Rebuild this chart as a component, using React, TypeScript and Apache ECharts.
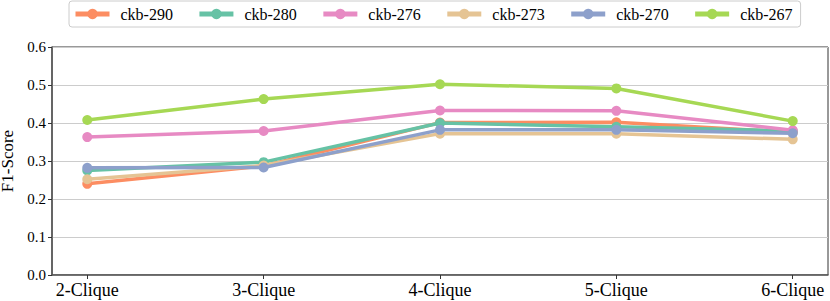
import React, { useEffect, useRef } from "react";
import * as echarts from "echarts";

const categories = ["2-Clique", "3-Clique", "4-Clique", "5-Clique", "6-Clique"];
const seriesNames = ["ckb-290", "ckb-280", "ckb-276", "ckb-273", "ckb-270", "ckb-267"];
const ckb290 = [0.240, 0.287, 0.401, 0.402, 0.375];
const ckb280 = [0.275, 0.297, 0.400, 0.390, 0.379];
const ckb276 = [0.363, 0.379, 0.433, 0.432, 0.381];
const ckb273 = [0.252, 0.288, 0.372, 0.372, 0.357];
const ckb270 = [0.282, 0.283, 0.382, 0.382, 0.373];
const ckb267 = [0.408, 0.463, 0.502, 0.491, 0.405];
const yTicks = [0, 0.1, 0.2, 0.3, 0.4, 0.5, 0.6];

const seriesValues = [ckb290, ckb280, ckb276, ckb273, ckb270, ckb267];
const colors = ["#fc8d62", "#66c2a5", "#e78ac3", "#e5c494", "#8da0cb", "#a6d854"];
const FONT = "Liberation Serif";

export default function App() {
  const ref = useRef<HTMLDivElement>(null);
  useEffect(() => {
    document.body.style.margin = "0";
    const chart = echarts.init(ref.current!, null, { renderer: "svg" });
    const catIdx = categories.map((_, i) => i);
    chart.setOption({
      animation: false,
      textStyle: { fontFamily: FONT },
      grid: {
        left: 52,
        right: 2,
        top: 47,
        bottom: 26,
        containLabel: false,
        outerBoundsMode: "none",
        show: true,
        borderColor: "#333",
        borderWidth: 1,
        backgroundColor: "transparent",
      },
      legend: {
        data: seriesNames,
        left: 69,
        top: 1,
        itemWidth: 34,
        itemHeight: 13,
        itemGap: 24,
        padding: [5, 8, 5, 4],
        borderColor: "#cccccc",
        borderWidth: 1,
        borderRadius: 3,
        backgroundColor: "#fff",
        lineStyle: { width: 5 },
        textStyle: { fontFamily: FONT, fontSize: 16, color: "#000", padding: [0, 0, 0, 6] },
      },
      xAxis: {
        type: "value",
        min: -0.2,
        max: 4.2,
        splitLine: { show: false },
        axisLine: { show: true, onZero: false, lineStyle: { color: "#555", width: 1.5 } },
        axisTick: { show: true, customValues: catIdx, length: 4, lineStyle: { color: "#333" } },
        axisLabel: {
          customValues: catIdx,
          formatter: (v: number) => categories[Math.round(v)] ?? "",
          fontFamily: FONT,
          fontSize: 18,
          color: "#000",
          margin: 6,
        },
      },
      yAxis: {
        type: "value",
        min: 0,
        max: 0.6,
        interval: 0.1,
        name: "F1-Score",
        nameLocation: "middle",
        nameGap: 27,
        nameTextStyle: { fontFamily: FONT, fontSize: 17, color: "#000" },
        splitLine: { show: true, lineStyle: { color: "#cccccc", width: 1 } },
        axisLine: { show: true, onZero: false, lineStyle: { color: "#555", width: 1.5 } },
        axisTick: { show: true, length: 4, lineStyle: { color: "#333" } },
        axisLabel: {
          customValues: yTicks,
          formatter: (v: number) => v.toFixed(1),
          fontFamily: FONT,
          fontSize: 15,
          color: "#000",
          margin: 6,
        },
      },
      series: seriesNames.map((name, si) => ({
        name,
        type: "line",
        data: seriesValues[si].map((v, i) => [i, v]),
        symbol: "circle",
        symbolSize: 10,
        color: colors[si],
        lineStyle: { width: 3.5, color: colors[si] },
        itemStyle: { color: colors[si] },
        z: 2 + si,
      })),
    });
    return () => chart.dispose();
  }, []);
  return <div ref={ref} style={{ width: 830, height: 301 }} />;
}
